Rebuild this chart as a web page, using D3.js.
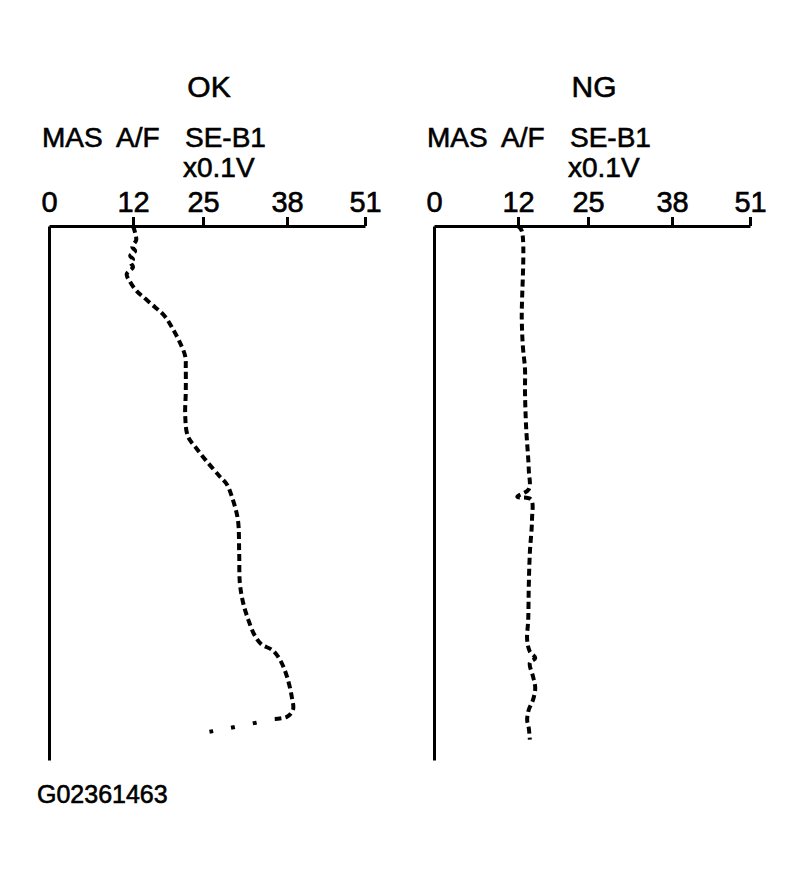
<!DOCTYPE html>
<html>
<head>
<meta charset="utf-8">
<script src="https://cdn.jsdelivr.net/npm/d3@7"></script>
<style>
  body { margin: 0; background: #fff; }
  svg text { font-family: "Liberation Sans", Arial, Helvetica, sans-serif; fill: #000; stroke: #000; stroke-width: 0.6px; }
</style>
</head>
<body>
<svg id="chart" width="796" height="880"></svg>
<script>
// tick labels on the MAS A/F SE-B1 scale (x0.1V)
var tickValues = [0, 12, 25, 38, 51];
var panelTitles = ["OK", "NG"];
var figureId = "G02361463";

// traces: [value (x0.1V), time (% of record)]
var okTrace = [
    [12.0, 0], [12.6, 2.6], [11.9, 3.9], [12.4, 4.7], [11.6, 5.6], [12.0, 6.2],
    [11.7, 6.9], [12.0, 7.7], [11.1, 9.0], [11.6, 10.5], [12.7, 12.2], [13.9, 13.3],
    [16.1, 15.2], [17.9, 16.9], [19.4, 19.3], [20.7, 21.8], [21.7, 24.4],
    [21.8, 26.8], [21.8, 31.1], [21.7, 35.6], [22.2, 39.4], [23.9, 41.8], [25.6, 44.1],
    [27.6, 46.9], [28.7, 48.4], [29.6, 51.2], [30.4, 55.0], [30.6, 61.2], [30.7, 66.8],
    [31.2, 70.5], [32.0, 73.7], [33.1, 76.9], [34.1, 78.4], [35.7, 79.4], [36.9, 81.2],
    [38.0, 84.4], [38.8, 88.2], [39.0, 90.6], [38.0, 91.9], [36.1, 92.3]
];
// fast drop at the end of the OK record, only a few samples
var okTail = [[33.3, 93.0], [29.2, 94.0], [25.6, 94.8]];

var ngTrace = [
    [12.0, 0], [12.7, 0.9], [12.7, 17.4], [12.9, 22.5], [13.3, 26.8], [13.3, 31.1],
    [13.5, 37.5], [14.0, 45.6], [14.0, 49.3], [11.9, 50.7], [14.4, 51.2], [14.6, 55.0],
    [14.2, 61.2], [14.0, 67.5], [13.9, 73.7], [13.7, 77.5], [14.2, 79.7], [15.2, 80.9],
    [14.2, 81.8], [14.8, 84.4], [15.2, 86.5], [14.8, 88.7], [14.0, 90.6], [13.7, 92.5],
    [14.0, 94.0], [14.2, 96.2]
];

var svg = d3.select('#chart');

// the printed scale is not evenly spaced, follow the tick marks
var x = d3.scaleLinear()
    .domain(tickValues)
    .range([0, 84, 154, 238, 316]);

var y = d3.scaleLinear()
    .domain([0, 100])
    .range([0, 534]);

var line = d3.line()
    .x(d => x(d[0]))
    .y(d => y(d[1]))
    .curve(d3.curveCatmullRom);

function drawPanel(left, title, trace, tail) {
    var g = svg.append('g')
        .attr('transform', 'translate(' + left + ',226)');

    g.append('text')
        .attr('x', 160)
        .attr('y', -129)
        .attr('text-anchor', 'middle')
        .style('font-size', '30px')
        .text(title);

    var head = [["MAS", -7, -79], ["A/F", 67, -79], ["SE-B1", 136, -79], ["x0.1V", 134, -49]];
    g.selectAll('.head')
        .data(head)
        .enter()
        .append('text')
        .attr('class', 'head')
        .attr('x', d => d[1])
        .attr('y', d => d[2])
        .style('font-size', '28px')
        .text(d => d[0]);

    var xAxis = g.append('g')
        .call(d3.axisTop(x)
            .tickValues(tickValues)
            .tickSize(9)
            .tickSizeOuter(0)
            .tickPadding(5));
    xAxis.select('.domain').attr('stroke-width', 3);
    xAxis.selectAll('.tick line')
        .attr('stroke-width', 3)
        .attr('y2', d => d === 0 ? 0 : -9);
    xAxis.selectAll('.tick text')
        .attr('font-family', null)
        .attr('font-size', null)
        .style('font-size', '29px');

    var yAxis = g.append('g')
        .call(d3.axisLeft(y).tickValues([]).tickSizeOuter(0));
    yAxis.select('.domain').attr('stroke-width', 3);

    g.append('path')
        .datum(trace)
        .attr('d', line)
        .attr('fill', 'none')
        .attr('stroke', '#000')
        .attr('stroke-width', 4)
        .attr('stroke-dasharray', '7,4');

    if (tail) {
        g.append('path')
            .datum(tail)
            .attr('d', line)
            .attr('fill', 'none')
            .attr('stroke', '#000')
            .attr('stroke-width', 4)
            .attr('stroke-dasharray', '4,18');
    }
}

drawPanel(49, panelTitles[0], okTrace, okTail);
drawPanel(434, panelTitles[1], ngTrace, null);

svg.append('text')
    .attr('x', 37)
    .attr('y', 803)
    .style('font-size', '25px')
    .text(figureId);
</script>
</body>
</html>
